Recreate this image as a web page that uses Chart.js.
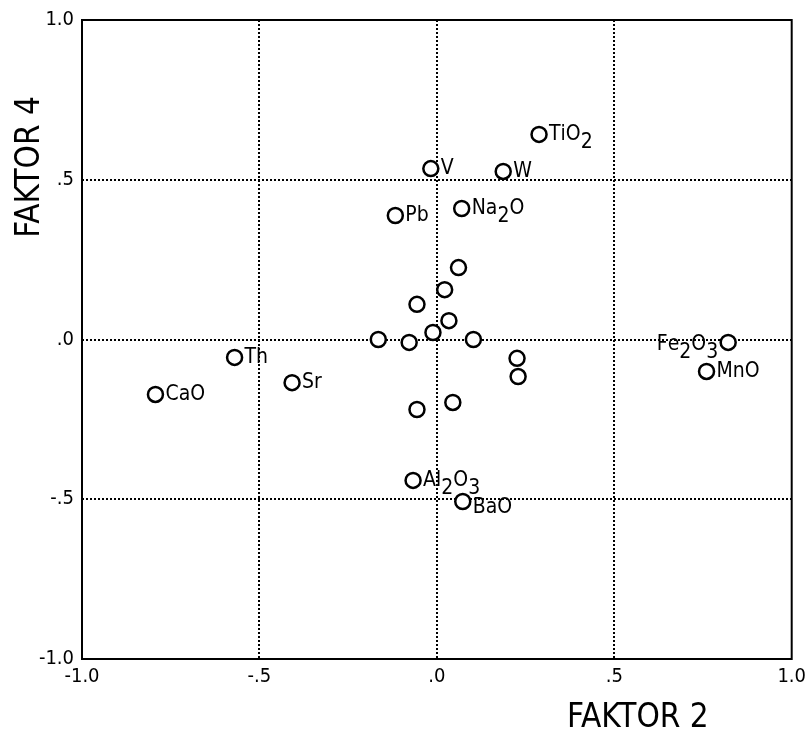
<!DOCTYPE html>
<html>
<head>
<meta charset="utf-8">
<script src="https://cdn.jsdelivr.net/npm/chart.js@4"></script>
<style>
  html, body { margin: 0; padding: 0; background: #fff; }
  #wrap { width: 812px; height: 730px; position: relative; }
</style>
</head>
<body>
<div id="wrap"><canvas id="chart" width="812" height="730"></canvas></div>
<script>
// element names ("_" marks a subscript digit), blank = unlabeled point
const names = ['TiO_2', 'V', 'W', 'Pb', 'Na_2O', '', '', '', '', '', '', '', '', '', '', '', '',
               'Th', 'Sr', 'CaO', 'Fe_2O_3', 'MnO', 'Al_2O_3', 'BaO'];
const faktor2 = [0.288, -0.017, 0.187, -0.117, 0.070, 0.061, 0.022, -0.056, 0.034, -0.011, -0.165, -0.078,
                 0.103, 0.226, 0.229, -0.056, 0.045, -0.570, -0.408, -0.793, 0.821, 0.760, -0.067, 0.073];
const faktor4 = [0.642, 0.535, 0.526, 0.388, 0.410, 0.225, 0.156, 0.110, 0.059, 0.022, 0.000, -0.009,
                 0.000, -0.059, -0.116, -0.219, -0.197, -0.056, -0.135, -0.172, -0.009, -0.100, -0.441, -0.507];
const tickValues = [-1, -0.5, 0, 0.5, 1];
const tickLabels = ['-1.0', '-.5', '.0', '.5', '1.0'];

const FONT = '"DejaVu Sans Condensed", "Liberation Sans Narrow", sans-serif';

const points = faktor2.map((x, i) => ({ x: x, y: faktor4[i] }));

function fmt(v) {
  const i = tickValues.findIndex(t => Math.abs(t - v) < 1e-6);
  return i >= 0 ? tickLabels[i] : '';
}

// draw "Na_2O" style text with lowered subscripts
function drawChem(ctx, text, x, y, align) {
  const parts = [];
  for (let i = 0; i < text.length; i++) {
    if (text[i] === '_') { parts.push({ t: text[i + 1], sub: true }); i++; }
    else parts.push({ t: text[i], sub: false });
  }
  ctx.font = '21px ' + FONT;
  let total = 0;
  parts.forEach(p => total += ctx.measureText(p.t).width);
  let cx = align === 'right' ? x - total : x;
  parts.forEach(p => {
    ctx.fillText(p.t, cx, p.sub ? y + 8 : y);
    cx += ctx.measureText(p.t).width;
  });
}

const labelPlugin = {
  id: 'labels',
  afterDatasetsDraw(chart) {
    const ctx = chart.ctx;
    const xs = chart.scales.x, ys = chart.scales.y;
    const area = chart.chartArea;
    ctx.save();
    // frame
    ctx.setLineDash([]);
    ctx.strokeStyle = '#000';
    ctx.lineWidth = 2;
    ctx.strokeRect(area.left, area.top, area.right - area.left, area.bottom - area.top);

    ctx.fillStyle = '#000';
    ctx.textBaseline = 'middle';
    names.forEach((n, i) => {
      if (!n) return;
      const px = xs.getPixelForValue(faktor2[i]);
      const py = ys.getPixelForValue(faktor4[i]);
      if (n === 'Fe_2O_3') drawChem(ctx, n, px - 10, py + 2, 'right');
      else if (n === 'BaO') drawChem(ctx, n, px + 10, py + 6, 'left');
      else drawChem(ctx, n, px + 10, py, 'left');
    });

    // axis titles
    ctx.font = '33px ' + FONT;
    ctx.textAlign = 'left';
    ctx.textBaseline = 'alphabetic';
    ctx.fillText('FAKTOR 2', 567, 727);
    ctx.translate(39, 167);
    ctx.rotate(-Math.PI / 2);
    ctx.textAlign = 'center';
    ctx.fillText('FAKTOR 4', 0, 0);
    ctx.restore();
  }
};

const gridOpts = {
  drawTicks: false,
  color: c => Math.abs(c.tick.value) === 1 ? 'rgba(0,0,0,0)' : '#000',
  lineWidth: 2
};

new Chart(document.getElementById('chart'), {
  type: 'scatter',
  data: {
    datasets: [{
      data: points,
      pointRadius: 7.5,
      pointHoverRadius: 7.5,
      pointBorderWidth: 2.5,
      pointBorderColor: '#000',
      pointBackgroundColor: '#fff'
    }]
  },
  options: {
    responsive: false,
    animation: false,
    layout: { padding: { left: 0, top: 20, right: 13, bottom: 0 } },
    plugins: { legend: { display: false }, tooltip: { enabled: false } },
    scales: {
      x: {
        min: -1, max: 1,
        afterBuildTicks: s => { s.ticks = tickValues.map(v => ({ value: v })); },
        afterFit: s => { s.height = 71; },
        border: { display: false, dash: [2, 2] },
        grid: gridOpts,
        ticks: {
          callback: v => fmt(v),
          color: '#000',
          padding: 6,
          maxRotation: 0,
          font: { family: FONT, size: 20 }
        }
      },
      y: {
        min: -1, max: 1,
        afterBuildTicks: s => { s.ticks = tickValues.map(v => ({ value: v })); },
        afterFit: s => { s.width = 82; },
        border: { display: false, dash: [2, 2] },
        grid: gridOpts,
        ticks: {
          callback: v => fmt(v),
          color: '#000',
          padding: 8,
          font: { family: FONT, size: 20 }
        }
      }
    }
  },
  plugins: [labelPlugin]
});
</script>
</body>
</html>
